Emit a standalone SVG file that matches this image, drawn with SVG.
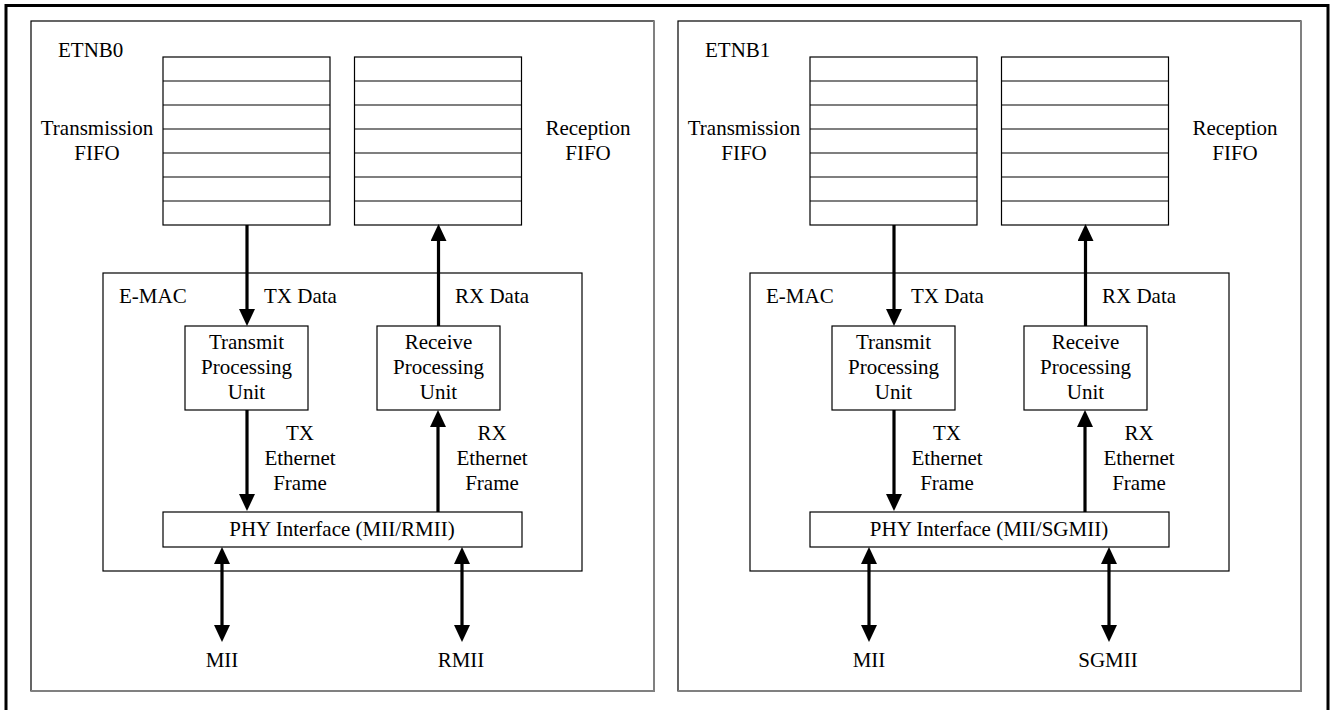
<svg xmlns="http://www.w3.org/2000/svg" width="1330" height="710" viewBox="0 0 1330 710">
<style>
text{font-family:"Liberation Serif","Times New Roman",serif;font-size:21px;fill:#000}
.c{text-anchor:middle}
.box{fill:#fff;stroke:#000;stroke-width:1.2}
.row{stroke:#000;stroke-width:1.2}
.pan{fill:none;stroke:#000;stroke-width:1.2}
.sh{stroke:#808080;stroke-width:2;fill:none}
.ar{stroke:#000;stroke-width:3.2;fill:none;marker-end:url(#ah)}
.bi{stroke:#000;stroke-width:3.2;fill:none;marker-start:url(#ah);marker-end:url(#ah)}
</style>
<defs>
<marker id="ah" viewBox="0 0 17 16" refX="7" refY="8" markerWidth="17" markerHeight="16" markerUnits="userSpaceOnUse" orient="auto-start-reverse">
<path d="M0,0 L17,8 L0,16 z" fill="#000"/>
</marker>
<g id="fifo">
<rect class="box" x="0" y="0" width="167" height="168"/>
<path class="row" d="M0,24H167M0,48H167M0,72H167M0,96H167M0,120H167M0,144H167"/>
</g>
</defs>
<rect width="1330" height="710" fill="#fff"/>
<path d="M6,714V5.5H1328V714" fill="none" stroke="#000" stroke-width="3"/>

<g id="etnb0">
<rect class="pan" x="31" y="21" width="623" height="670"/>
<path class="sh" d="M654,21V691H31"/>
<text x="58" y="57">ETNB0</text>
</g>
<g id="etnb0-txfifo">
<use href="#fifo" x="163" y="57"/>
<text class="c" x="97" y="135">Transmission</text>
<text class="c" x="97" y="160">FIFO</text>
</g>
<g id="etnb0-rxfifo">
<use href="#fifo" x="354.5" y="57"/>
<text class="c" x="588" y="135">Reception</text>
<text class="c" x="588" y="160">FIFO</text>
</g>
<g id="etnb0-emac">
<rect class="pan" x="103" y="273" width="479" height="298"/>
<text x="119" y="303">E-MAC</text>
</g>
<g id="etnb0-tpu">
<rect class="box" x="185" y="326" width="123" height="84"/>
<text class="c" x="246.5" y="349">Transmit</text>
<text class="c" x="246.5" y="374">Processing</text>
<text class="c" x="246.5" y="399">Unit</text>
</g>
<g id="etnb0-rpu">
<rect class="box" x="377" y="326" width="123" height="84"/>
<text class="c" x="438.5" y="349">Receive</text>
<text class="c" x="438.5" y="374">Processing</text>
<text class="c" x="438.5" y="399">Unit</text>
</g>
<g id="etnb0-phy">
<rect class="box" x="163" y="512" width="359" height="35"/>
<text class="c" x="342" y="536">PHY Interface (MII/RMII)</text>
</g>
<g id="etnb0-mii"><text class="c" x="222" y="667">MII</text></g>
<g id="etnb0-rmii"><text class="c" x="461" y="667">RMII</text></g>

<g id="etnb1">
<rect class="pan" x="678" y="21" width="623" height="670"/>
<path class="sh" d="M1301,21V691H678"/>
<text x="705" y="57">ETNB1</text>
</g>
<g id="etnb1-txfifo">
<use href="#fifo" x="810" y="57"/>
<text class="c" x="744" y="135">Transmission</text>
<text class="c" x="744" y="160">FIFO</text>
</g>
<g id="etnb1-rxfifo">
<use href="#fifo" x="1001.5" y="57"/>
<text class="c" x="1235" y="135">Reception</text>
<text class="c" x="1235" y="160">FIFO</text>
</g>
<g id="etnb1-emac">
<rect class="pan" x="750" y="273" width="479" height="298"/>
<text x="766" y="303">E-MAC</text>
</g>
<g id="etnb1-tpu">
<rect class="box" x="832" y="326" width="123" height="84"/>
<text class="c" x="893.5" y="349">Transmit</text>
<text class="c" x="893.5" y="374">Processing</text>
<text class="c" x="893.5" y="399">Unit</text>
</g>
<g id="etnb1-rpu">
<rect class="box" x="1024" y="326" width="123" height="84"/>
<text class="c" x="1085.5" y="349">Receive</text>
<text class="c" x="1085.5" y="374">Processing</text>
<text class="c" x="1085.5" y="399">Unit</text>
</g>
<g id="etnb1-phy">
<rect class="box" x="810" y="512" width="359" height="35"/>
<text class="c" x="989" y="536">PHY Interface (MII/SGMII)</text>
</g>
<g id="etnb1-mii"><text class="c" x="869" y="667">MII</text></g>
<g id="etnb1-sgmii"><text class="c" x="1108" y="667">SGMII</text></g>

<g id="connectors">
<line class="ar" x1="247" y1="225" x2="247" y2="316"/>
<line class="ar" x1="438.5" y1="326" x2="438.5" y2="234"/>
<line class="ar" x1="247" y1="410" x2="247" y2="501"/>
<line class="ar" x1="438" y1="512" x2="438" y2="420"/>
<line class="bi" x1="222" y1="557" x2="222" y2="632"/>
<line class="bi" x1="462" y1="557" x2="462" y2="632"/>
<line class="ar" x1="894" y1="225" x2="894" y2="316"/>
<line class="ar" x1="1085.5" y1="326" x2="1085.5" y2="234"/>
<line class="ar" x1="894" y1="410" x2="894" y2="501"/>
<line class="ar" x1="1085" y1="512" x2="1085" y2="420"/>
<line class="bi" x1="869" y1="557" x2="869" y2="632"/>
<line class="bi" x1="1109" y1="557" x2="1109" y2="632"/>
<text x="264" y="303">TX Data</text>
<text x="455" y="303">RX Data</text>
<text class="c" x="300" y="440">TX</text>
<text class="c" x="300" y="465">Ethernet</text>
<text class="c" x="300" y="490">Frame</text>
<text class="c" x="492" y="440">RX</text>
<text class="c" x="492" y="465">Ethernet</text>
<text class="c" x="492" y="490">Frame</text>
<text x="911" y="303">TX Data</text>
<text x="1102" y="303">RX Data</text>
<text class="c" x="947" y="440">TX</text>
<text class="c" x="947" y="465">Ethernet</text>
<text class="c" x="947" y="490">Frame</text>
<text class="c" x="1139" y="440">RX</text>
<text class="c" x="1139" y="465">Ethernet</text>
<text class="c" x="1139" y="490">Frame</text>
</g>
</svg>
